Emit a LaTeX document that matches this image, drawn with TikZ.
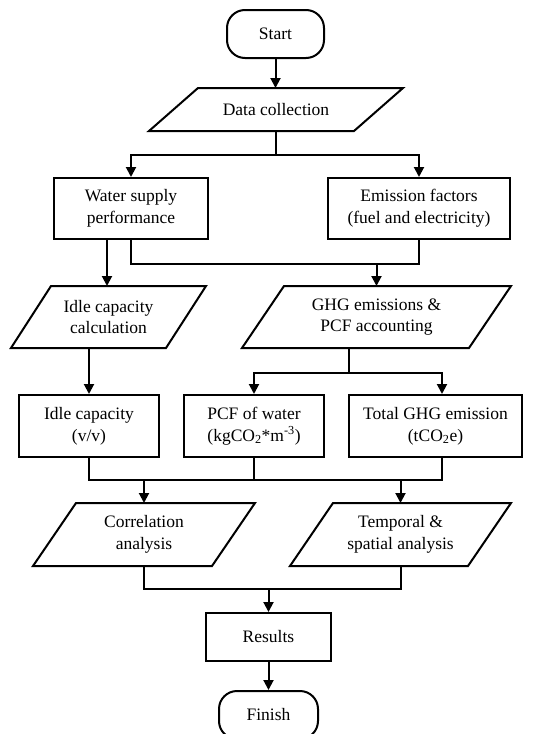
\documentclass[tikz,border=0pt]{standalone}
\usepackage{fontspec}
\setmainfont{Liberation Serif}
\usetikzlibrary{positioning, calc, arrows.meta}

\begin{document}
\begin{tikzpicture}[x=1pt, y=-1pt, line width=2pt,
	every node/.style={font=\fontsize{17.5}{21.7}\selectfont, align=center, inner sep=0pt},
	term/.style={draw, rounded corners=18pt, minimum height=48pt},
	proc/.style={draw, minimum height=61pt},
	io/.style={minimum height=60pt},
	arr/.style={-{Triangle[length=10pt,width=10pt]}}]
			\useasboundingbox (0,0) rectangle (549,734);
			
			%% terminals and boxes
			\node[term, minimum width=97pt] (start) at (275.5,34) {Start};
			\node[io, minimum width=203pt, minimum height=41pt] (datacol) at (276,109.5) {Data collection};
			\node[proc, minimum width=154pt] (watsup) at (131,208.5) {Water supply\\performance};
			\node[proc, minimum width=182pt] (emfac) at (419,208.5) {Emission factors\\(fuel and electricity)};
			\node[io, minimum width=153pt] (idlecalc) at (108.5,317) {Idle capacity\\calculation};
			\node[io, minimum width=225pt] (ghgacc) at (376.5,317) {GHG emissions \&\\PCF accounting};
			\node[proc, minimum width=140pt, minimum height=62pt] (idlecap) at (89,426) {Idle capacity\\(v/v)};
			\node[proc, minimum width=140pt, minimum height=62pt] (pcfwat) at (254,426) {PCF of water\\(kgCO\textsubscript{2}*m\textsuperscript{-3})};
			\node[proc, minimum width=173pt, minimum height=62pt] (totghg) at (435.5,426) {Total GHG emission\\(tCO\textsubscript{2}e)};
			\node[io, minimum width=177pt, minimum height=61pt] (corran) at (144,534.5) {Correlation\\analysis};
			\node[io, minimum width=176pt, minimum height=61pt] (tempsp) at (400.5,534.5) {Temporal \&\\spatial analysis};
			\node[proc, minimum width=125pt, minimum height=48pt] (results) at (268.5,637) {Results};
			\node[term, minimum width=99pt] (finish) at (268.5,715) {Finish};
			
			%% slanted outlines of the data nodes
			\foreach \n/\s in {datacol/24.5, idlecalc/20, ghgacc/21, corran/21.5, tempsp/21.5}
				\draw ([xshift=\s pt]\n.north west) -- ([xshift=\s pt]\n.north east) -- ([xshift=-\s pt]\n.south east) -- ([xshift=-\s pt]\n.south west) -- cycle;
			
			%% connectors
			\draw[arr] (start.south) -- (start.south |- datacol.north);
			\draw (datacol.south) -- ++(0,24) coordinate (s1);
			\draw[arr] (s1) -| (watsup.north);
			\draw[arr] (s1) -| (emfac.north);
			
			\draw[arr] ([xshift=-24pt]watsup.south) -- ([xshift=-24pt]watsup.south |- idlecalc.north);
			\draw (watsup.south) -- ++(0,24) coordinate (s2) -| (emfac.south);
			\draw[arr] (s2 -| ghgacc.north) -- (ghgacc.north);
			
			\draw[arr] (idlecalc.south -| idlecap.north) -- (idlecap.north);
			\draw ([xshift=-27.5pt]ghgacc.south) -- ++(0,25) coordinate (s3);
			\draw[arr] (s3) -| (pcfwat.north);
			\draw[arr] (s3) -| ([xshift=6.5pt]totghg.north);
			
			\draw (idlecap.south) -- ++(0,22) coordinate (s4) -| ([xshift=6.5pt]totghg.south);
			\draw (pcfwat.south) -- (pcfwat.south |- s4);
			\draw[arr] (s4 -| corran.north) -- (corran.north);
			\draw[arr] (s4 -| tempsp.north) -- (tempsp.north);
			
			\draw (corran.south) -- ++(0,23) coordinate (s5) -| (tempsp.south);
			\draw[arr] (s5 -| results.north) -- (results.north);
			\draw[arr] (results.south) -- (finish.north);
\end{tikzpicture}
\end{document}
